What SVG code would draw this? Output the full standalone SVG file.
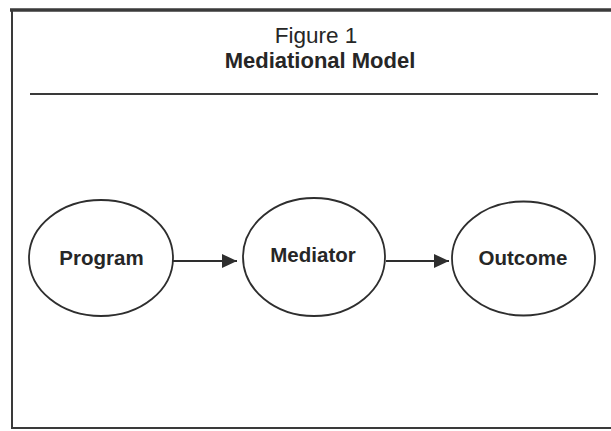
<svg xmlns="http://www.w3.org/2000/svg" width="611" height="431" viewBox="0 0 611 431">
<style>
.frame{stroke:#3a3a3a;fill:none}
.node{fill:#fff;stroke:#2e2e2e;stroke-width:1.8}
.lbl{font-family:"Liberation Sans",Arial,sans-serif;font-weight:bold;font-size:20.5px;fill:#262626;text-anchor:middle}
.conn{stroke:#2e2e2e;stroke-width:2;fill:none}
.title{font-family:"Liberation Sans",Arial,sans-serif;fill:#262626;text-anchor:middle}
</style>
<defs>
<marker id="ah" markerUnits="userSpaceOnUse" markerWidth="16" markerHeight="14" refX="15" refY="7" orient="auto">
<path d="M0,0 L15,7 L0,14 Z" fill="#2e2e2e"/>
</marker>
</defs>
<rect width="611" height="431" fill="#fff"/>
<g id="frame">
<line class="frame" x1="10" y1="10" x2="611" y2="10" stroke-width="3.5"/>
<line class="frame" x1="12" y1="9" x2="12" y2="429" stroke-width="2"/>
<line class="frame" x1="11" y1="428" x2="611" y2="428" stroke-width="2"/>
<line class="frame" x1="30" y1="94" x2="598" y2="94" stroke-width="2"/>
</g>
<g id="title">
<text class="title" x="316" y="43" font-size="22.5">Figure 1</text>
<text class="title" x="320" y="68" font-size="22" font-weight="bold">Mediational Model</text>
</g>
<g id="connectors">
<line class="conn" x1="173" y1="261" x2="237" y2="261" marker-end="url(#ah)"/>
<line class="conn" x1="386" y1="261" x2="449" y2="261" marker-end="url(#ah)"/>
</g>
<g id="program">
<ellipse class="node" cx="101" cy="258" rx="72" ry="58"/>
<text class="lbl" x="101.5" y="265">Program</text>
</g>
<g id="mediator">
<ellipse class="node" cx="314" cy="257" rx="71" ry="59"/>
<text class="lbl" x="313" y="262">Mediator</text>
</g>
<g id="outcome">
<ellipse class="node" cx="523.5" cy="258.5" rx="71.5" ry="57"/>
<text class="lbl" x="523" y="265">Outcome</text>
</g>
</svg>
